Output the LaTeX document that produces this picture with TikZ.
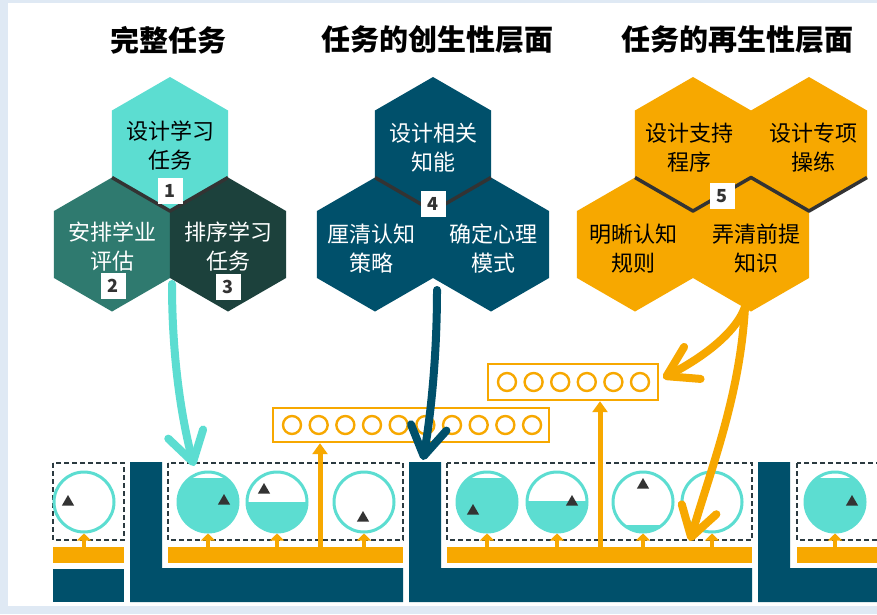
\documentclass[tikz,border=0pt]{standalone}
\usepackage{fontspec}
\setmainfont{Noto Sans CJK SC}
\usetikzlibrary{arrows.meta,shapes.geometric,calc}
\definecolor{bgblue}{HTML}{DFE9F4}
\definecolor{tealc}{HTML}{5CDDD1}
\definecolor{tealm}{HTML}{2F7A6F}
\definecolor{teald}{HTML}{1C413C}
\definecolor{navy}{HTML}{00506B}
\definecolor{orng}{HTML}{F7A800}
\definecolor{ink}{HTML}{333333}
\definecolor{dashc}{HTML}{2B3A40}
\begin{document}
\begin{tikzpicture}[x=1pt,y=-1pt,
  head/.style={inner sep=0pt,font=\fontsize{29}{32}\selectfont\bfseries},
  hex/.style={regular polygon,regular polygon sides=6,shape border rotate=30,
    minimum size=134pt,inner sep=0pt,outer sep=0pt},
  htxt/.style={inner sep=0pt,align=center,font=\fontsize{22}{29}\selectfont},
  vline/.style={draw=ink,line width=3.5pt,line join=round},
  num/.style={fill=white,inner sep=0pt,minimum width=25pt,minimum height=26pt,
    text=ink,font=\fontsize{18}{18}\selectfont\bfseries},
  dbox/.style={draw=dashc,line width=2pt,dash pattern=on 5pt off 3pt},
  ball/.style={circle,draw=tealc,line width=3pt,fill=white,minimum size=60pt,inner sep=0pt},
  lvl/.style={path picture={\fill[tealc] (path picture bounding box.south west)
      rectangle ([yshift=#1pt]path picture bounding box.south east);}},
  tri/.style={regular polygon,regular polygon sides=3,fill=ink,minimum size=14pt,inner sep=0pt},
  sarrow/.style={draw=orng,line width=4pt,-{Triangle[length=7pt,width=14pt]}},
  varrow/.style={draw=orng,line width=5pt,-{Triangle[length=11pt,width=15pt]}},
  obox/.style={draw=orng,line width=2.4pt,inner sep=0pt},
  ocirc/.style={draw=orng,line width=2.4pt},
  bigarr/.style={line width=8pt,line cap=round,-{Straight Barb[length=29pt,width=36pt,round]}}
]
\clip (0,0) rectangle (877,614);
\fill[bgblue] (0,0) rectangle (877,614);
\fill[white] (8,3) rectangle (877,606);

% headings
\node[head] (t1) at (168,40) {完整任务};
\node[head] (t2) at (437,40) {任务的创生性层面};
\node[head] (t3) at (737,40) {任务的再生性层面};

% cluster 1
\node[hex,fill=tealc] (h11) at (170,144) {};
\node[hex,fill=tealm] (h12) at (112,244.5) {};
\node[hex,fill=teald] (h13) at (228,244.5) {};
\node[htxt,text=black] (x11) at ([yshift=-2pt]h11) {设计学习\\任务};
\node[htxt,text=white] (x12) at ([yshift=-2pt]h12) {安排学业\\评估};
\node[htxt,text=white] (x13) at ([yshift=-2pt]h13) {排序学习\\任务};
\draw[vline] (h12.north) -- (h11.south) -- (h13.north);

% cluster 2
\node[hex,fill=navy] (h21) at (433,144) {};
\node[hex,fill=navy] (h22) at (375,244.5) {};
\node[hex,fill=navy] (h23) at (491,244.5) {};
\node[htxt,text=white] (x21) at ([yshift=-4pt]h21) {设计相关\\知能};
\node[htxt,text=white] (x22) at ([xshift=-4pt,yshift=-4pt]h22) {厘清认知\\策略};
\node[htxt,text=white] (x23) at ([xshift=2pt,yshift=-4pt]h23) {确定心理\\模式};
\draw[vline] (h22.north) -- (h21.south) -- (h23.north);

% cluster 3
\node[hex,fill=orng] (h31) at (693,144) {};
\node[hex,fill=orng] (h32) at (809,144) {};
\node[hex,fill=orng] (h33) at (635,244.5) {};
\node[hex,fill=orng] (h34) at (751,244.5) {};
\node[htxt] (x31) at ([xshift=-4pt,yshift=-4pt]h31) {设计支持\\程序};
\node[htxt] (x32) at ([xshift=4pt,yshift=-4pt]h32) {设计专项\\操练};
\node[htxt] (x33) at ([xshift=-2pt,yshift=-4pt]h33) {明晰认知\\规则};
\node[htxt] (x34) at ([xshift=5pt,yshift=-4pt]h34) {弄清前提\\知识};
\draw[vline] (h33.north) -- (h31.south) -- (h34.north) -- (h32.south) -- ($(h32.center)+(58,33.5)$);

% bottom structure
\draw[dbox] (53,463) rectangle (124,540);
\draw[dbox] (168,463) rectangle (403,540);
\draw[dbox] (447,463) rectangle (752,540);
\draw[dbox] (797,463) rectangle (890,540);

\fill[orng] (53,547) rectangle (124,563);
\fill[orng] (168,547) rectangle (403,563);
\fill[orng] (447,547) rectangle (752,563);
\fill[orng] (797,547) rectangle (890,563);

\fill[navy] (53,569) rectangle (124,602);
\fill[navy] (130,462) -- (162,462) -- (162,568) -- (403,568) -- (403,602) -- (130,602) -- cycle;
\fill[navy] (409,462) -- (441,462) -- (441,568) -- (752,568) -- (752,602) -- (409,602) -- cycle;
\fill[navy] (758,462) -- (790,462) -- (790,568) -- (890,568) -- (890,602) -- (758,602) -- cycle;

\coordinate (bar) at (0,547);

% balls
\node[ball] (c0) at (84,502) {};
\node[ball,lvl=54.5] (c1) at (208,502) {};
\node[ball,lvl=30] (c2) at (277,502) {};
\node[ball] (c3) at (364,502) {};
\node[ball,lvl=54.5] (c4) at (487,502) {};
\node[ball,lvl=31] (c5) at (557,502) {};
\node[ball,lvl=7] (c6) at (643,502) {};
\node[ball] (c7) at (712,502) {};
\node[ball,lvl=54.5] (c8) at (835,502) {};

\node[tri] (r0) at (68,502) {};
\node[tri] (r1) at (224,501) {};
\node[tri] (r2) at (264,490) {};
\node[tri] (r3) at (363,518) {};
\node[tri] (r4) at (473,511) {};
\node[tri] (r5) at (572,502) {};
\node[tri] (r6) at (643,485) {};
\node[tri] (r8) at (852,502) {};

\foreach \c in {c0,c1,c2,c3,c4,c5,c6,c7,c8}
  \draw[sarrow] (\c.south |- bar) -- (\c.south);

% orange boxes
\node[obox,minimum width=276pt,minimum height=34pt] (boxA) at (411,425) {};
\foreach \i in {0,...,9} \draw[ocirc] (292+26.67*\i,425) circle (9);
\node[obox,minimum width=170pt,minimum height=36pt] (boxB) at (573,382) {};
\foreach \i in {0,...,5} \draw[ocirc] (507+26.6*\i,382) circle (9);

\coordinate (u1) at (320,547);
\coordinate (u2) at (600,547);
\draw[varrow] (u1) -- (u1 |- boxA.south);
\draw[varrow] (u2) -- (u2 |- boxB.south);

% number tags
\node[num] (n1) at (170,191) {1};
\node[num] (n2) at (113,286) {2};
\node[num] (n3) at (228,287) {3};
\node[num] (n4) at (433,204) {4};
\node[num] (n5) at (722,196) {5};

% big arrows
\coordinate (a1s) at (172,284);
\coordinate (a1e) at (194,466);
\coordinate (a2s) at (437,290);
\coordinate (a2e) at (423,460);
\coordinate (a3s) at (745,307);
\coordinate (a3e) at (663,378);
\coordinate (a4e) at (690,541);
\draw[bigarr,draw=tealc] (a1s) .. controls +(0,76) and +(-12,-46) .. (a1e);
\draw[bigarr,draw=navy] (a2s) .. controls +(0,70) and +(7,-40) .. (a2e);
\draw[bigarr,draw=orng] (a3s) .. controls +(-10,28) and +(35,-18) .. (a3e);
\draw[bigarr,draw=orng] (a3s) .. controls +(-5,90) and +(20,-70) .. (a4e);
\end{tikzpicture}
\end{document}
